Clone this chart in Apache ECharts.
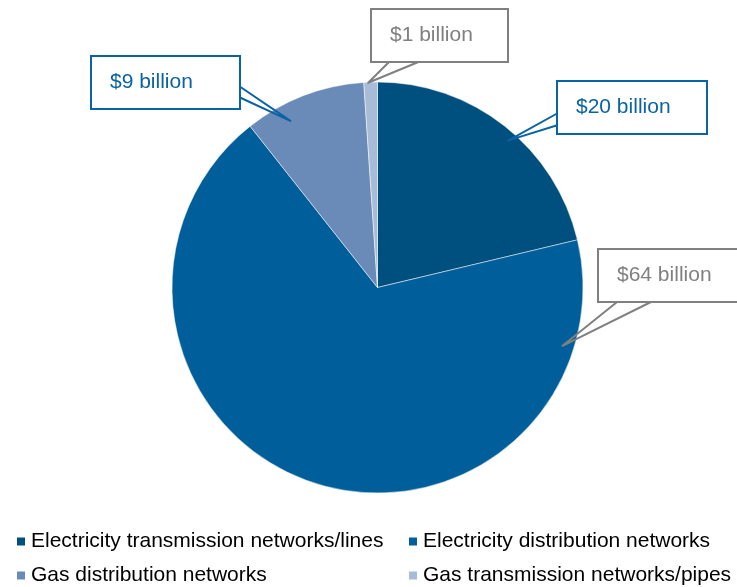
<!DOCTYPE html>
<html>
<head>
<meta charset="utf-8">
<script src="https://cdn.jsdelivr.net/npm/echarts@6/dist/echarts.min.js"></script>
<style>
  html, body { margin: 0; padding: 0; background: #ffffff; }
  #chart { width: 737px; height: 587px; }
</style>
</head>
<body>
<div id="chart"></div>
<script>
// ---- Data ----
const categories = [
  'Electricity transmission networks/lines',
  'Electricity distribution networks',
  'Gas distribution networks',
  'Gas transmission networks/pipes'
];
const values = [20, 64, 9, 1];
const valueLabels = ['$20 billion', '$64 billion', '$9 billion', '$1 billion'];

// ---- Styles / layout ----
const sliceColors = ['#00507f', '#005f9b', '#6a8ab7', '#a8bcd8'];
const BLUE = '#0a63a3';
const GREY = '#808080';
const calloutColors = [BLUE, GREY, BLUE, GREY];
const FONT = '"Liberation Sans", Arial, Helvetica, sans-serif';
const CENTER = [377.5, 287.5];
const RADIUS = 205.5;

// callout box top-left, outer width, wedge anchor offsets (relative to box) and tip (polar: deg clockwise from top, radius)
const calloutLayout = [
  { x: 558, y: 82,  w: 148, a: [0, 31], b: [0, 43], tipAng: 41.7, tipR: 197 },
  { x: 599, y: 250, w: 148, a: [23, 48], b: [60, 48], tipAng: 107.5, tipR: 194 },
  { x: 92,  y: 57,  w: 147, a: [147, 29], b: [149, 41], tipAng: 332.4, tipR: 188 },
  { x: 372, y: 10,  w: 135, a: [21, 48], b: [56, 48], tipAng: 357.4, tipR: 205 }
];
const PAD_L = 18;

const sliceData = categories.map(function (name, i) {
  return { name: name, value: values[i], itemStyle: { color: sliceColors[i] } };
});

const calloutData = categories.map(function (name, i) {
  return {
    name: name,
    value: values[i],
    label: {
      color: calloutColors[i],
      borderColor: calloutColors[i],
      width: calloutLayout[i].w - PAD_L,
      padding: [13, 0, 13, PAD_L]
    },
    labelLine: { lineStyle: { color: calloutColors[i] } }
  };
});

const chart = echarts.init(document.getElementById('chart'), null, { renderer: 'canvas' });

const legendBase = {
  orient: 'vertical',
  top: 531,
  padding: 0,
  itemWidth: 10,
  itemHeight: 10,
  itemGap: 13,
  icon: 'rect',
  selectedMode: false,
  textStyle: { fontSize: 21, color: '#000000', fontFamily: FONT }
};

chart.setOption({
  animation: false,
  backgroundColor: '#ffffff',
  legend: [
    Object.assign({}, legendBase, { data: [categories[0], categories[2]], left: 15 }),
    Object.assign({}, legendBase, { data: [categories[1], categories[3]], left: 407 })
  ],
  series: [
    {
      // the pie itself
      type: 'pie',
      z: 2,
      center: CENTER,
      radius: RADIUS,
      startAngle: 90,
      clockwise: true,
      data: sliceData,
      itemStyle: { borderColor: '#ffffff', borderWidth: 0.5 },
      label: { show: false },
      labelLine: { show: false },
      emphasis: { disabled: true },
      silent: true
    },
    {
      // transparent overlay carrying the callout labels so their pointers sit above the slices
      type: 'pie',
      z: 5,
      center: CENTER,
      radius: RADIUS,
      startAngle: 90,
      clockwise: true,
      data: calloutData,
      itemStyle: { color: 'rgba(0,0,0,0)', borderWidth: 0 },
      label: {
        show: true,
        position: 'outside',
        formatter: function (p) { return valueLabels[p.dataIndex]; },
        fontSize: 21,
        lineHeight: 25,
        fontFamily: FONT,
        align: 'left',
        backgroundColor: '#ffffff',
        borderWidth: 2
      },
      labelLine: {
        show: true,
        smooth: false,
        length: 10,
        length2: 10,
        lineStyle: { width: 2, join: 'round', cap: 'round' }
      },
      labelLayout: function (params) {
        const c = calloutLayout[params.dataIndex];
        const rad = c.tipAng * Math.PI / 180;
        const tip = [CENTER[0] + c.tipR * Math.sin(rad), CENTER[1] - c.tipR * Math.cos(rad)];
        return {
          x: c.x,
          y: c.y,
          align: 'left',
          verticalAlign: 'top',
          hideOverlap: false,
          labelLinePoints: [
            [c.x + c.a[0], c.y + c.a[1]],
            tip,
            [c.x + c.b[0], c.y + c.b[1]]
          ]
        };
      },
      emphasis: { disabled: true },
      silent: true
    }
  ]
});
</script>
</body>
</html>
